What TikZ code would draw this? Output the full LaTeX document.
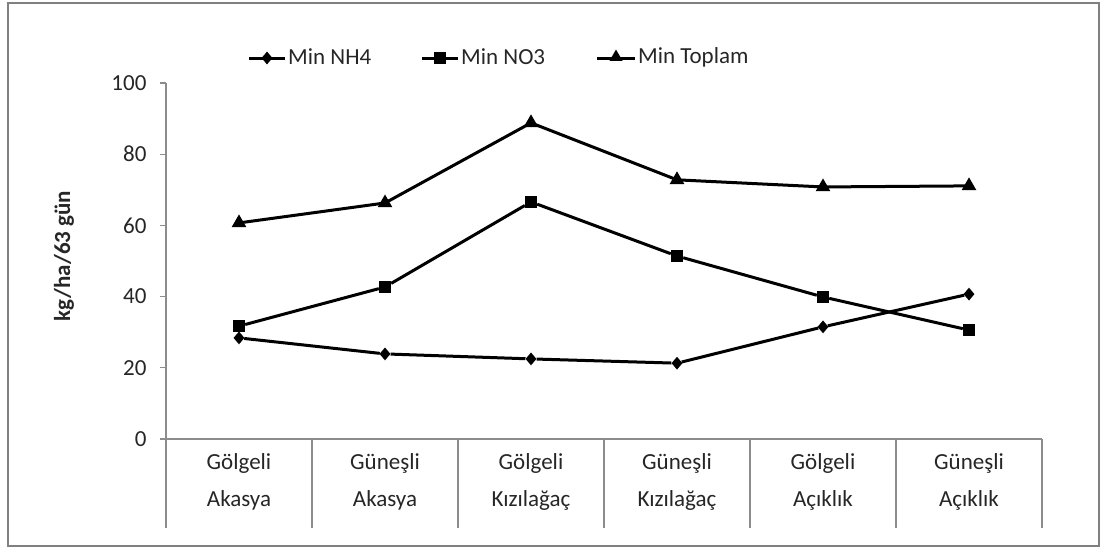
\documentclass[tikz,border=0pt]{standalone}
\usepackage{fontspec}
\setmainfont{Carlito}
\usetikzlibrary{shapes.geometric}
\begin{document}
\begin{tikzpicture}[x=1pt,y=-1pt,
  every node/.style={font=\fontsize{23}{27}\selectfont, text=black!85},
  axisline/.style={draw=black!45, line width=1.3pt},
  serie/.style={draw=black, line width=3pt, line join=round},
  mdia/.style={diamond, fill=black, draw=none, inner sep=0pt, minimum width=11pt, minimum height=13pt},
  msq/.style={rectangle, fill=black, draw=none, inner sep=0pt, minimum size=12pt},
  mtri/.style={regular polygon, regular polygon sides=3, fill=black, draw=none, inner sep=0pt, minimum size=17pt},
  ticklab/.style={anchor=east},
  catlab/.style={anchor=center}
]
\useasboundingbox (0,0) rectangle (1105,549);
\draw[draw=black!50, line width=2pt] (8,3) rectangle (1099,546);

% axes
\coordinate (ytop) at (166,83);
\coordinate (orig) at (166,439);
\coordinate (xend) at (1042,439);
\draw[axisline] (ytop) -- (166,528);
\draw[axisline] (orig) -- (xend);
\foreach \v in {0,20,...,100} {
  \draw[axisline] (160,{439-\v*3.56}) -- (166,{439-\v*3.56});
  \node[ticklab] at (150,{439-\v*3.56}) {\v};
}
\foreach \xx in {312,458,604,750,896,1042} {
  \draw[axisline] (\xx,439) -- (\xx,528);
}
% category labels
\node[catlab] (c1a) at (239,463) {Gölgeli};
\node[catlab] (c1b) at (239,500) {Akasya};
\node[catlab] (c2a) at (385,463) {Güneşli};
\node[catlab] (c2b) at (385,500) {Akasya};
\node[catlab] (c3a) at (531,463) {Gölgeli};
\node[catlab] (c3b) at (531,500) {Kızılağaç};
\node[catlab] (c4a) at (677,463) {Güneşli};
\node[catlab] (c4b) at (677,500) {Kızılağaç};
\node[catlab] (c5a) at (823,463) {Gölgeli};
\node[catlab] (c5b) at (823,500) {Açıklık};
\node[catlab] (c6a) at (969,463) {Güneşli};
\node[catlab] (c6b) at (969,500) {Açıklık};

% y title
\node[rotate=90, font=\fontsize{23}{27}\selectfont\bfseries] (ytitle) at (64,256) {kg/ha/63 gün};

% data
\foreach \i/\xx/\a/\b/\c in {1/239/28.4/31.7/60.7, 2/385/23.9/42.7/66.3, 3/531/22.5/66.6/88.8, 4/677/21.3/51.4/72.8, 5/823/31.5/39.9/70.8, 6/969/40.7/30.6/71.1} {
  \node[mdia] (a\i) at (\xx,{439-\a*3.56}) {};
  \node[msq] (b\i) at (\xx,{439-\b*3.56}) {};
  \node[mtri] (t\i) at (\xx,{439-\c*3.56}) {};
}
\draw[serie] (a1) -- (a2) -- (a3) -- (a4) -- (a5) -- (a6);
\draw[serie] (b1) -- (b2) -- (b3) -- (b4) -- (b5) -- (b6);
\draw[serie] (t1.center) -- (t2.center) -- (t3.center) -- (t4.center) -- (t5.center) -- (t6.center);

% legend
\coordinate (l1s) at (249,58); \coordinate (l1e) at (285,58);
\draw[serie] (l1s) -- (l1e);
\node[mdia] (lm1) at (267,58) {};
\node[anchor=west, inner sep=0pt] (lt1) at (288,57) {Min NH4};
\coordinate (l2s) at (422,58); \coordinate (l2e) at (458,58);
\draw[serie] (l2s) -- (l2e);
\node[msq] (lm2) at (440,58) {};
\node[anchor=west, inner sep=0pt] (lt2) at (461,57) {Min NO3};
\coordinate (l3s) at (597,58); \coordinate (l3e) at (635,58);
\draw[serie] (l3s) -- (l3e);
\node[mtri, minimum size=15pt] (lm3) at (616,57) {};
\node[anchor=west, inner sep=0pt] (lt3) at (638,57) {Min Toplam};
\end{tikzpicture}
\end{document}
